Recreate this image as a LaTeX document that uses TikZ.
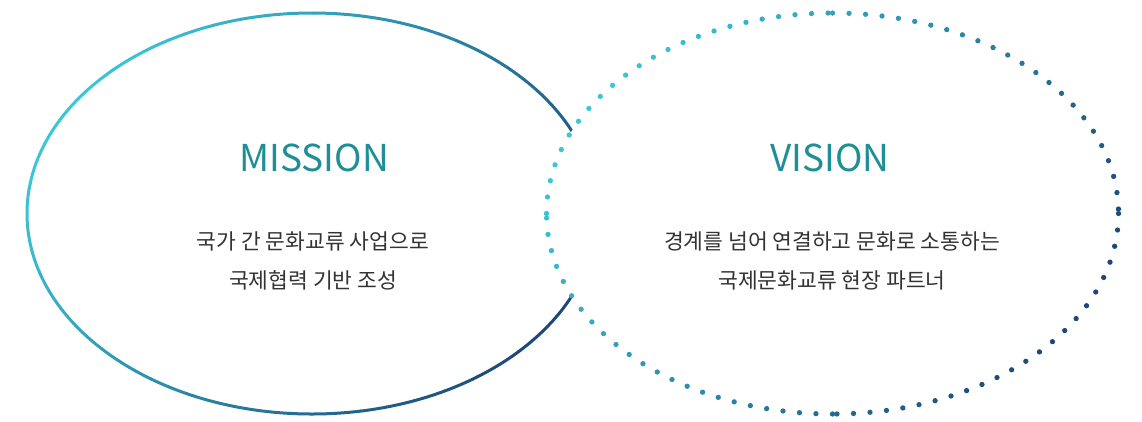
\documentclass[tikz,border=0pt]{standalone}
\usepackage{fontspec}
\setmainfont{Noto Sans CJK KR}
\usetikzlibrary{positioning}
\definecolor{ringcyan}{HTML}{3CC8D8}
\definecolor{ringnavy}{HTML}{1C4677}
\definecolor{titleteal}{HTML}{1E8F96}
\definecolor{bodygray}{HTML}{333333}
\tikzset{
  title/.style={text=titleteal, inner sep=0pt, font=\fontsize{37}{37}\selectfont},
  body/.style={text=bodygray, align=center, inner sep=0pt, font=\fontsize{21.5}{38.5}\selectfont},
  ring/.style={line width=3pt},
  dotring/.style={line width=5.3pt, line cap=round, dash pattern=on 0pt off 16.55pt},
}
\begin{document}
\begin{tikzpicture}[x=1pt,y=-1pt]
\useasboundingbox (0,0) rectangle (1142,421);
% centres
\coordinate (M) at (312,213.5);
\coordinate (V) at (832.5,213.5);
% mission ring, colour runs from top left to bottom right in slanted bands
\foreach \i in {0,...,27}{
  \pgfmathsetmacro\xa{312-266+19*\i}
  \pgfmathsetmacro\xb{\xa+19.5}
  \pgfmathsetmacro\mixp{100*(\i+0.5)/28}
  \begin{scope}
    \clip[rotate around={-35:(312,213.5)}] (\xa,-120) rectangle (\xb,547);
    \draw[ring, ringnavy!\mixp!ringcyan] (M) ellipse [x radius=285, y radius=200.5];
  \end{scope}
}
% vision ring covers the overlap
\fill[white] (V) ellipse [x radius=286, y radius=200.5];
\foreach \i in {0,...,27}{
  \pgfmathsetmacro\xa{832.5-266+19*\i}
  \pgfmathsetmacro\xb{\xa+19.5}
  \pgfmathsetmacro\mixp{100*(\i+0.5)/28}
  \begin{scope}
    \clip[rotate around={-35:(832.5,213.5)}] (\xa,-120) rectangle (\xb,547);
    \foreach \s in {0,90,180,270}
      \draw[dotring, ringnavy!\mixp!ringcyan] (V) ++(\s:286 and 200.5)
        arc [start angle=\s, end angle=\s+90, x radius=286, y radius=200.5];
  \end{scope}
}
% texts
\node[title] (mission) at (314,158) {MISSION};
\node[body] (missiontext) at (313,261) {국가 간 문화교류 사업으로\\국제협력 기반 조성};
\node[title] (vision) at (830,158) {VISION};
\node[body] (visiontext) at (832,261) {경계를 넘어 연결하고 문화로 소통하는\\국제문화교류 현장 파트너};
\end{tikzpicture}
\end{document}
